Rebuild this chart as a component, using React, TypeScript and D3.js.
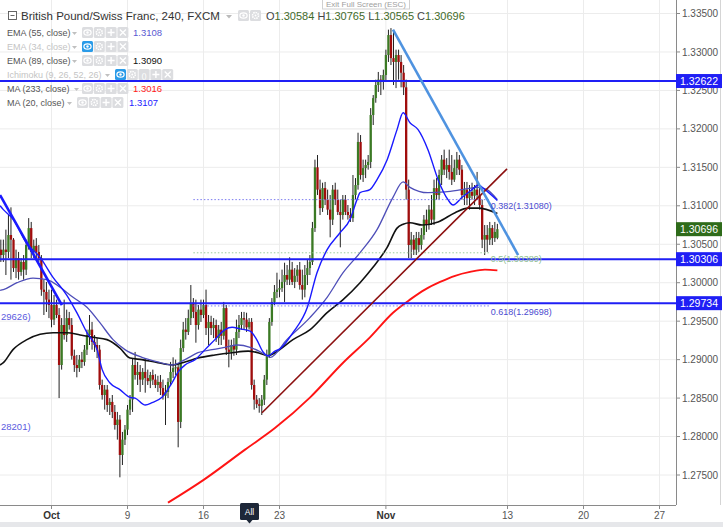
import React from "react";
import * as d3 from "d3";

// ---------------- data ----------------
const FIRST_BAR = -20; // bar index of the first candle (Oct 2 first bar = 0)

// [open, high, low, close] — GBP/CHF 4h candles
const candles: [number, number, number, number][] = [
  [1.3043, 1.3056, 1.3027, 1.3036],
  [1.3036, 1.3056, 1.3027, 1.3043],
  [1.3043, 1.3069, 1.301, 1.304],
  [1.304, 1.3088, 1.3032, 1.3062],
  [1.3062, 1.3098, 1.3004, 1.3056],
  [1.3056, 1.3058, 1.3014, 1.3019],
  [1.3019, 1.3043, 1.3006, 1.3032],
  [1.3032, 1.304, 1.3004, 1.3014],
  [1.3014, 1.3032, 1.3009, 1.3027],
  [1.3027, 1.3036, 1.3004, 1.3017],
  [1.3017, 1.3056, 1.301, 1.3049],
  [1.3049, 1.3084, 1.3043, 1.3071],
  [1.3071, 1.3079, 1.3032, 1.304],
  [1.304, 1.3056, 1.3032, 1.3048],
  [1.3048, 1.3058, 1.3032, 1.304],
  [1.304, 1.3049, 1.3027, 1.3032],
  [1.3032, 1.3036, 1.2983, 1.2991],
  [1.2991, 1.3004, 1.2958, 1.2988],
  [1.2988, 1.3001, 1.2962, 1.2978],
  [1.2978, 1.2991, 1.2954, 1.2971],
  [1.2971, 1.2991, 1.2942, 1.2952], // 0  Oct 2
  [1.2952, 1.2984, 1.2945, 1.2971],
  [1.2971, 1.2978, 1.2954, 1.2958],
  [1.2958, 1.2967, 1.285, 1.2893],
  [1.2893, 1.2954, 1.2887, 1.2945],
  [1.2945, 1.2978, 1.2926, 1.2932],
  [1.2932, 1.2965, 1.2923, 1.2954],
  [1.2954, 1.2962, 1.2939, 1.2945],
  [1.2945, 1.2954, 1.29, 1.2905],
  [1.2905, 1.2913, 1.2884, 1.2893],
  [1.2893, 1.2906, 1.2877, 1.2889], // 10
  [1.2889, 1.2906, 1.2884, 1.29],
  [1.29, 1.291, 1.2889, 1.2897],
  [1.2897, 1.2919, 1.2892, 1.2913],
  [1.2913, 1.2939, 1.2906, 1.2932],
  [1.2932, 1.2958, 1.2919, 1.2939],
  [1.2939, 1.2949, 1.2913, 1.2923],
  [1.2923, 1.2932, 1.291, 1.2919],
  [1.2919, 1.2928, 1.2902, 1.2913],
  [1.2913, 1.2919, 1.2861, 1.2867],
  [1.2867, 1.2874, 1.2848, 1.2854], // 20
  [1.2854, 1.2867, 1.2835, 1.2861],
  [1.2861, 1.2867, 1.2832, 1.2841],
  [1.2841, 1.285, 1.2828, 1.2845],
  [1.2845, 1.2854, 1.2824, 1.2832],
  [1.2832, 1.2841, 1.2809, 1.2815],
  [1.2815, 1.2832, 1.2796, 1.2822],
  [1.2822, 1.2828, 1.2747, 1.2776],
  [1.2776, 1.2806, 1.2763, 1.2796],
  [1.2796, 1.2815, 1.2789, 1.2809],
  [1.2809, 1.2841, 1.2802, 1.2835], // 30  Oct 9
  [1.2835, 1.2854, 1.2828, 1.2848],
  [1.2848, 1.2902, 1.2832, 1.2893],
  [1.2893, 1.291, 1.2874, 1.288],
  [1.288, 1.2897, 1.2867, 1.2884],
  [1.2884, 1.2893, 1.2858, 1.2874],
  [1.2874, 1.2889, 1.2867, 1.2884],
  [1.2884, 1.2902, 1.2857, 1.2876],
  [1.2876, 1.2887, 1.2867, 1.2872],
  [1.2872, 1.2884, 1.2863, 1.288],
  [1.288, 1.2887, 1.2867, 1.2874], // 40
  [1.2874, 1.2881, 1.2863, 1.2867],
  [1.2867, 1.2879, 1.2858, 1.2871],
  [1.2871, 1.288, 1.2854, 1.2863],
  [1.2863, 1.2874, 1.2848, 1.2853],
  [1.2853, 1.2867, 1.2815, 1.2858],
  [1.2858, 1.2876, 1.285, 1.2871],
  [1.2871, 1.2897, 1.2866, 1.2884],
  [1.2884, 1.2903, 1.2876, 1.2889],
  [1.2889, 1.29, 1.288, 1.289],
  [1.289, 1.2894, 1.2786, 1.2819], // 50
  [1.2819, 1.2926, 1.2811, 1.2915],
  [1.2915, 1.2949, 1.291, 1.2939],
  [1.2939, 1.2954, 1.2926, 1.2936],
  [1.2936, 1.2965, 1.2932, 1.2954],
  [1.2954, 1.2997, 1.2945, 1.2974],
  [1.2974, 1.298, 1.2954, 1.2962],
  [1.2962, 1.2978, 1.2922, 1.2945],
  [1.2945, 1.2971, 1.2939, 1.2965],
  [1.2965, 1.2978, 1.2949, 1.2958],
  [1.2958, 1.2978, 1.2954, 1.2971], // 60  Oct 16
  [1.2971, 1.2991, 1.2932, 1.2941],
  [1.2941, 1.2958, 1.2919, 1.2949],
  [1.2949, 1.2957, 1.2932, 1.2941],
  [1.2941, 1.2954, 1.2928, 1.2945],
  [1.2945, 1.2952, 1.2923, 1.2928],
  [1.2928, 1.2945, 1.2919, 1.2939],
  [1.2939, 1.2949, 1.2919, 1.2931],
  [1.2931, 1.2975, 1.2926, 1.2967],
  [1.2967, 1.2971, 1.2906, 1.2913],
  [1.2913, 1.2926, 1.289, 1.291], // 70
  [1.291, 1.2926, 1.29, 1.2919],
  [1.2919, 1.2928, 1.2905, 1.2913],
  [1.2913, 1.2952, 1.2906, 1.2936],
  [1.2936, 1.2958, 1.2928, 1.2945],
  [1.2945, 1.2962, 1.2939, 1.2954],
  [1.2954, 1.2962, 1.2939, 1.2952],
  [1.2952, 1.2961, 1.2936, 1.2942],
  [1.2942, 1.2954, 1.2939, 1.2949],
  [1.2949, 1.2954, 1.2861, 1.2867],
  [1.2867, 1.2874, 1.2835, 1.2848], // 80
  [1.2848, 1.2854, 1.2837, 1.2842],
  [1.2842, 1.285, 1.2831, 1.284],
  [1.284, 1.2854, 1.2828, 1.2848],
  [1.2848, 1.288, 1.2841, 1.2874],
  [1.2874, 1.2913, 1.2867, 1.2906],
  [1.2906, 1.2954, 1.2902, 1.2949],
  [1.2949, 1.298, 1.2944, 1.2975],
  [1.2975, 1.2997, 1.2971, 1.2988],
  [1.2988, 1.3013, 1.298, 1.2991],
  [1.2991, 1.3004, 1.2981, 1.2993], // 90  Oct 23
  [1.2993, 1.3017, 1.2988, 1.3001],
  [1.3001, 1.3026, 1.2975, 1.301],
  [1.301, 1.3023, 1.2997, 1.3004],
  [1.3004, 1.3033, 1.2997, 1.3017],
  [1.3017, 1.3027, 1.2997, 1.3001],
  [1.3001, 1.3019, 1.2993, 1.3009],
  [1.3009, 1.3023, 1.3001, 1.3017],
  [1.3017, 1.3027, 1.2991, 1.2997],
  [1.2997, 1.3017, 1.2978, 1.2991],
  [1.2991, 1.3023, 1.2981, 1.301], // 100
  [1.301, 1.303, 1.2997, 1.3019],
  [1.3019, 1.3036, 1.301, 1.3027],
  [1.3027, 1.3079, 1.3023, 1.3071],
  [1.3071, 1.316, 1.3066, 1.315],
  [1.315, 1.3166, 1.3114, 1.3121],
  [1.3121, 1.3134, 1.3088, 1.3097],
  [1.3097, 1.313, 1.3092, 1.3123],
  [1.3123, 1.3131, 1.3101, 1.3108],
  [1.3108, 1.3121, 1.3088, 1.3095],
  [1.3095, 1.3114, 1.3059, 1.3082], // 110
  [1.3082, 1.3127, 1.3075, 1.3121],
  [1.3121, 1.313, 1.3101, 1.3108],
  [1.3108, 1.3121, 1.3088, 1.3092],
  [1.3092, 1.3108, 1.3046, 1.3088],
  [1.3088, 1.3114, 1.3082, 1.3108],
  [1.3108, 1.3114, 1.3088, 1.3092],
  [1.3092, 1.3101, 1.3082, 1.3088],
  [1.3088, 1.3097, 1.3079, 1.3084],
  [1.3084, 1.314, 1.3079, 1.3114],
  [1.3114, 1.3136, 1.3108, 1.3127], // 120  Oct 30
  [1.3127, 1.3195, 1.3121, 1.3183],
  [1.3183, 1.3192, 1.3134, 1.314],
  [1.314, 1.316, 1.3131, 1.3149],
  [1.3149, 1.316, 1.3136, 1.3153],
  [1.3153, 1.3166, 1.3147, 1.3157],
  [1.3157, 1.3227, 1.3149, 1.3218],
  [1.3218, 1.3244, 1.3205, 1.324],
  [1.324, 1.3264, 1.3234, 1.3257],
  [1.3257, 1.3274, 1.3248, 1.3264],
  [1.3264, 1.327, 1.3244, 1.3261], // 130
  [1.3261, 1.3277, 1.3251, 1.327],
  [1.327, 1.3303, 1.3261, 1.3296],
  [1.3296, 1.3329, 1.3287, 1.3322],
  [1.3322, 1.3331, 1.3283, 1.3292],
  [1.3292, 1.3326, 1.3257, 1.3287],
  [1.3287, 1.3303, 1.3253, 1.3296],
  [1.3296, 1.3303, 1.3264, 1.3287],
  [1.3287, 1.3296, 1.3254, 1.3273],
  [1.3273, 1.3283, 1.3244, 1.3254],
  [1.3254, 1.3264, 1.3108, 1.3121], // 140
  [1.3121, 1.3134, 1.3032, 1.3049],
  [1.3049, 1.3066, 1.3032, 1.3056],
  [1.3056, 1.3062, 1.3036, 1.3043],
  [1.3043, 1.3066, 1.3036, 1.3058],
  [1.3058, 1.3066, 1.304, 1.3049],
  [1.3049, 1.3071, 1.3043, 1.3062],
  [1.3062, 1.3088, 1.3056, 1.3082],
  [1.3082, 1.3095, 1.3066, 1.3075],
  [1.3075, 1.3101, 1.3069, 1.3095],
  [1.3095, 1.3114, 1.3075, 1.3082], // 150  Nov 6
  [1.3082, 1.3134, 1.3075, 1.3123],
  [1.3123, 1.3136, 1.3108, 1.3114],
  [1.3114, 1.3147, 1.3108, 1.314],
  [1.314, 1.3166, 1.3127, 1.316],
  [1.316, 1.3173, 1.314, 1.3147],
  [1.3147, 1.3162, 1.3136, 1.3153],
  [1.3153, 1.3173, 1.3134, 1.3144],
  [1.3144, 1.3166, 1.3127, 1.3134],
  [1.3134, 1.316, 1.3131, 1.3149],
  [1.3149, 1.317, 1.314, 1.316], // 160
  [1.316, 1.3166, 1.314, 1.3147],
  [1.3147, 1.3153, 1.3108, 1.3114],
  [1.3114, 1.3131, 1.3101, 1.3121],
  [1.3121, 1.3131, 1.3101, 1.311],
  [1.311, 1.3127, 1.3095, 1.3118],
  [1.3118, 1.313, 1.3108, 1.3113],
  [1.3113, 1.3127, 1.3101, 1.3121],
  [1.3121, 1.3144, 1.3108, 1.3114],
  [1.3114, 1.3127, 1.3095, 1.3101],
  [1.3101, 1.3108, 1.3045, 1.3056], // 170
  [1.3056, 1.3075, 1.3036, 1.3062],
  [1.3062, 1.3075, 1.304, 1.3056],
  [1.3056, 1.3079, 1.3049, 1.3071],
  [1.3071, 1.3075, 1.3049, 1.3058],
  [1.3058, 1.3079, 1.3053, 1.3066],
  [1.30584, 1.30765, 1.30565, 1.30696],
];

// moving averages, sampled [bar index, value]
const ma20: [number, number][] = [
  [-20.3, 1.31], [-19, 1.3095], [-15, 1.3082], [-10, 1.3052], [-4.5, 1.3033], [0.6, 1.3007],
  [6, 1.2984], [10, 1.2961], [14, 1.2935], [18, 1.2913], [20, 1.2887], [23, 1.287], [27, 1.2861],
  [31, 1.2851], [33, 1.285], [37, 1.2841], [39.7, 1.2844], [43.6, 1.2851], [47.6, 1.287], [50, 1.2884],
  [52.7, 1.2893], [56.7, 1.29], [60.6, 1.2913], [64.5, 1.2926], [68.5, 1.2939], [71.3, 1.2942],
  [74.4, 1.294], [78.4, 1.2937], [81, 1.2926], [83.5, 1.291], [85.5, 1.2905], [88.2, 1.2911],
  [90.2, 1.2914], [95.3, 1.2935], [101, 1.2968], [104.8, 1.3013], [108.8, 1.3043], [113.9, 1.3065],
  [117.8, 1.3082], [120.6, 1.3108], [121.8, 1.3117], [125.7, 1.3121], [128.5, 1.3134], [132.5, 1.316],
  [136.4, 1.3199], [138.8, 1.3221], [141.5, 1.3208], [144.7, 1.3199], [148.6, 1.3173], [152.6, 1.3134],
  [156.5, 1.3108], [158.5, 1.3101], [162.1, 1.3111], [166, 1.3121], [168.4, 1.3127], [171.1, 1.3121],
  [176, 1.3107],
];
const ema55: [number, number][] = [
  [-20.3, 1.299], [-19, 1.2991], [-13.6, 1.3], [-7.3, 1.3006], [-1.8, 1.3004], [3.4, 1.2994],
  [8.5, 1.2981], [14, 1.2968], [19.1, 1.2948], [24.3, 1.2926], [29, 1.2913], [35.7, 1.2903],
  [42, 1.2897], [47.6, 1.2893], [52.7, 1.29], [57.8, 1.2909], [63.4, 1.2913], [68.5, 1.2916],
  [73.6, 1.2919], [78.4, 1.2916], [83.1, 1.2909], [86.3, 1.2903], [92.9, 1.2926], [102.1, 1.2955],
  [108.8, 1.2981], [115.1, 1.3013], [121.8, 1.3039], [128.5, 1.3069], [134.8, 1.3111], [138.8, 1.3131],
  [141.5, 1.3124], [148.6, 1.3117], [155.4, 1.3118], [162.1, 1.3121], [168.4, 1.3124], [171.9, 1.3121],
  [176, 1.3108],
];
const ema89: [number, number][] = [
  [-20.3, 1.2893], [-19, 1.2896], [-15.2, 1.2913], [-9.7, 1.2926], [-4.5, 1.2933], [0.6, 1.2935],
  [6.1, 1.2935], [11.3, 1.2932], [16.4, 1.2929], [21.9, 1.2926], [27, 1.2915], [31, 1.2902],
  [35.7, 1.29], [42, 1.2896], [47.6, 1.2893], [52.7, 1.2897], [57.8, 1.2902], [64.5, 1.2906],
  [71.3, 1.2909], [77.6, 1.2911], [81.5, 1.2909], [85.5, 1.2905], [88.2, 1.2909], [95.3, 1.2926],
  [102.1, 1.2939], [108.8, 1.2961], [115.1, 1.2978], [121.8, 1.3], [126.9, 1.302], [132.5, 1.3046],
  [136.4, 1.3071], [138.8, 1.3076], [141.5, 1.3078], [146.3, 1.3075], [152.6, 1.3079], [159.3, 1.3091],
  [164.4, 1.3097], [168.4, 1.3097], [176, 1.309],
];
const ma233: [number, number][] = [
  [46, 1.2714], [60.2, 1.2744], [76.4, 1.2783], [88.2, 1.2811], [102.1, 1.2851], [115.1, 1.2896],
  [125.7, 1.2929], [134.8, 1.2961], [141.5, 1.2978], [147.4, 1.2991], [153.4, 1.3001], [159.3, 1.3009],
  [165.2, 1.3014], [171.1, 1.3017], [176, 1.3016],
];

// axes
const xTickBars = [0, 30, 60, 90, 132, 180, 210, 240];
const xTickLabels = ["Oct", "9", "16", "23", "Nov", "13", "20", "27"];
const yTickValues = [1.275, 1.28, 1.285, 1.29, 1.295, 1.3, 1.305, 1.31, 1.315, 1.32, 1.325, 1.33, 1.335];

// drawings
const horizontalLevels = [1.32622, 1.30306, 1.29734];
const lastClose = 1.30696;
const fibValues = [1.3108, 1.30389, 1.29698];
const fibLabels = ["0.382(1.31080)", "0.5(1.30389)", "0.618(1.29698)"];
const fibBars = [56, 173];
const leftFibValues = [1.29626, 1.28201];
const leftFibLabels = ["29626)", "28201)"];
const trendDown: [number, number][] = [[134.8, 1.3329], [184.2, 1.3036]];
const trendUp: [number, number][] = [[83.1, 1.2831], [179.8, 1.3148]];
const trendLeft: [number, number][] = [[-20.3, 1.3114], [4.1, 1.2971]];

// header / legend
const title = "British Pound/Swiss Franc, 240, FXCM";
const ohlcKeys = ["O", "H", "L", "C"];
const ohlcValues = ["1.30584", "1.30765", "1.30565", "1.30696"];
const legendNames = ["EMA (55, close)", "EMA (34, close)", "EMA (89, close)", "Ichimoku (9, 26, 52, 26)", "MA (233, close)", "MA (20, close)"];
const legendValues = ["1.3108", "", "1.3090", "", "1.3016", "1.3107"];
const legendHidden = [false, true, false, true, false, false];

// ---------------- styles ----------------
const PLOT_R = 676;
const PLOT_B = 505;
const FONT = "'Liberation Sans', Arial, sans-serif";
const UP = "#3b7a24";
const DOWN = "#a00d0d";
const LEVEL_BLUE = "#1f1ff5";
const legendColors = ["#5a5ad2", "", "#111", "", "#ff1a1a", "#2323ff"];
const legendTriX = [72, 72, 72, 105, 74, 67];
const legendIconX = [82, 82, 82, 115, 82, 77];
const legendValX = [133, 0, 133, 0, 133, 129];

function IconBox({ x, y, kind, active }: { x: number; y: number; kind: string; active?: boolean }) {
  const cx = x + 5.5;
  const cy = y + 5.5;
  const fg = "#fff";
  return (
    <g>
      <rect x={x} y={y} width={11} height={11} rx={1.5} fill={active ? "#2a9be8" : "#dcdde0"} />
      {kind === "eye" && (
        <g>
          <ellipse cx={cx} cy={cy} rx={3.6} ry={2.6} fill="none" stroke={fg} strokeWidth={1.2} />
          <circle cx={cx} cy={cy} r={1.2} fill={fg} />
        </g>
      )}
      {kind === "gear" && (
        <g>
          <circle cx={cx} cy={cy} r={3} fill="none" stroke={fg} strokeWidth={1.6} strokeDasharray="1.5 0.8" />
          <circle cx={cx} cy={cy} r={1} fill={fg} />
        </g>
      )}
      {kind === "plus" && (
        <path d={`M${cx - 3.5},${cy}H${cx + 3.5}M${cx},${cy - 3.5}V${cy + 3.5}`} stroke={fg} strokeWidth={1.4} />
      )}
      {kind === "cross" && (
        <path d={`M${cx - 3},${cy - 3}L${cx + 3},${cy + 3}M${cx + 3},${cy - 3}L${cx - 3},${cy + 3}`} stroke={fg} strokeWidth={1.3} />
      )}
      {kind === "paren" && (
        <text x={cx} y={cy + 3} textAnchor="middle" fontSize={8} fill={fg} fontFamily={FONT}>()</text>
      )}
    </g>
  );
}

export default function App() {
  const x = d3.scaleLinear().domain([0, 30]).range([51.5, 127.5]);
  const y = d3.scaleLinear().domain([1.275, 1.335]).range([475, 13.5]);
  const smooth = d3
    .line<[number, number]>()
    .x((d) => x(d[0]))
    .y((d) => y(d[1]))
    .curve(d3.curveMonotoneX);
  const straight = d3
    .line<[number, number]>()
    .x((d) => x(d[0]))
    .y((d) => y(d[1]));

  const bodyW = 2.3;

  const axisLabel = (v: number, fill: string, key: string) => (
    <g key={key}>
      <rect x={PLOT_R} y={y(v) - 7} width={46} height={14} fill={fill} />
      <text x={PLOT_R + 23} y={y(v) + 3.6} textAnchor="middle" fontSize={10.5} fill="#fff" fontFamily={FONT}>
        {v.toFixed(5)}
      </text>
    </g>
  );

  return (
    <svg
      width={723}
      height={527}
      viewBox="0 0 723 527"
      style={{ position: "absolute", left: 0, top: 0, background: "#fff" }}
    >
      <defs>
        <clipPath id="plot">
          <rect x={0} y={0} width={PLOT_R} height={PLOT_B} />
        </clipPath>
      </defs>
      <rect x={0} y={0} width={723} height={527} fill="#fff" />

      {/* grid */}
      <g stroke="#ececec" strokeWidth={1}>
        {xTickBars.map((b) => (
          <line key={"gx" + b} x1={x(b)} x2={x(b)} y1={0} y2={PLOT_B} />
        ))}
        {yTickValues.map((v) => (
          <line key={"gy" + v} x1={0} x2={PLOT_R} y1={y(v)} y2={y(v)} />
        ))}
      </g>

      <g clipPath="url(#plot)">
        {/* candles */}
        {candles.map((c, k) => {
          const [o, h, l, cl] = c;
          const cx = x(FIRST_BAR + k);
          const up = cl >= o;
          const top = y(Math.max(o, cl));
          const bh = Math.max(1, Math.abs(y(o) - y(cl)));
          return (
            <g key={"c" + k}>
              <line x1={cx} x2={cx} y1={y(h)} y2={y(l)} stroke="#222" strokeWidth={1} />
              <rect x={cx - bodyW / 2} y={top} width={bodyW} height={bh} fill={up ? UP : DOWN} />
            </g>
          );
        })}

        {/* moving averages */}
        <path d={smooth(ma233) || ""} fill="none" stroke="#ff1414" strokeWidth={1.9} />
        <path d={smooth(ema89) || ""} fill="none" stroke="#111" strokeWidth={1.6} />
        <path d={smooth(ema55) || ""} fill="none" stroke="#4e4eb8" strokeWidth={1.3} />
        <path d={smooth(ma20) || ""} fill="none" stroke="#1a1aff" strokeWidth={1.4} />

        {/* fib levels */}
        {fibValues.map((v, k) => (
          <line
            key={"fl" + k}
            x1={x(fibBars[0])}
            x2={x(fibBars[1])}
            y1={y(v)}
            y2={y(v)}
            stroke={k === 1 ? "#9ccc9c" : "#7a7af0"}
            strokeWidth={1}
            strokeDasharray="1.5 2"
          />
        ))}

        {/* horizontal levels */}
        {horizontalLevels.map((v) => (
          <line key={"hl" + v} x1={0} x2={PLOT_R} y1={y(v)} y2={y(v)} stroke={LEVEL_BLUE} strokeWidth={2} />
        ))}

        {/* trend lines */}
        <path d={straight(trendUp) || ""} stroke="#8c1010" strokeWidth={1.6} fill="none" />
        <path d={straight(trendDown) || ""} stroke="#4f93e0" strokeWidth={2.6} fill="none" />
        <path d={straight(trendLeft) || ""} stroke="#1a1aff" strokeWidth={2.6} fill="none" />

        {/* fib labels */}
        {fibValues.map((v, k) => (
          <text
            key={"ft" + k}
            x={x(fibBars[1]) + 1}
            y={y(v) + 9}
            fontSize={9}
            fill={k === 1 ? "#8fbf8f" : "#4b4bd0"}
            fontFamily={FONT}
          >
            {fibLabels[k]}
          </text>
        ))}
        {leftFibValues.map((v, k) => (
          <text key={"lf" + k} x={1} y={y(v) + 8.5} fontSize={9.5} fill="#5a5ae0" fontFamily={FONT}>
            {leftFibLabels[k]}
          </text>
        ))}
      </g>

      {/* axes lines */}
      <line x1={PLOT_R + 0.5} x2={PLOT_R + 0.5} y1={0} y2={PLOT_B} stroke="#8a8a8a" />
      <line x1={0} x2={PLOT_R} y1={PLOT_B + 0.5} y2={PLOT_B + 0.5} stroke="#8a8a8a" />
      <line x1={720.5} x2={720.5} y1={0} y2={PLOT_B} stroke="#d5d5d5" />

      {/* y ticks */}
      {yTickValues.map((v) => (
        <g key={"yt" + v}>
          <line x1={PLOT_R} x2={PLOT_R + 4} y1={y(v)} y2={y(v)} stroke="#8a8a8a" />
          <text x={PLOT_R + 6} y={y(v) + 3.6} fontSize={10} fill="#555" fontFamily={FONT}>
            {v.toFixed(5)}
          </text>
        </g>
      ))}

      {/* x ticks */}
      {xTickBars.map((b, k) => (
        <g key={"xt" + b}>
          <line x1={x(b)} x2={x(b)} y1={PLOT_B} y2={PLOT_B + 4} stroke="#8a8a8a" />
          <text
            x={x(b)}
            y={519}
            textAnchor="middle"
            fontSize={10}
            fontWeight={xTickLabels[k] === "Oct" || xTickLabels[k] === "Nov" ? "bold" : "normal"}
            fill={xTickLabels[k] === "Oct" || xTickLabels[k] === "Nov" ? "#333" : "#555"}
            fontFamily={FONT}
          >
            {xTickLabels[k]}
          </text>
        </g>
      ))}

      {/* price labels on axis */}
      {axisLabel(horizontalLevels[0], LEVEL_BLUE, "al0")}
      {axisLabel(lastClose, "#2e6b1a", "alc")}
      {axisLabel(horizontalLevels[1], LEVEL_BLUE, "al1")}
      {axisLabel(horizontalLevels[2], LEVEL_BLUE, "al2")}

      {/* bottom strip */}
      <rect x={0} y={522} width={723} height={5} fill="#e6e7ea" />

      {/* All badge */}
      <g>
        <rect x={240} y={503} width={19} height={17} rx={1.5} fill="#1d2738" />
        <path d="M246.5,520 L249.5,523.5 L252.5,520 Z" fill="#1d2738" />
        <text x={249.5} y={515} textAnchor="middle" fontSize={8.5} fill="#fff" fontFamily={FONT}>All</text>
      </g>

      {/* Exit full screen tooltip */}
      <g>
        <rect x={322.5} y={-2} width={87} height={11} fill="#fff" stroke="#d0d0d0" />
        <text x={366} y={6.5} textAnchor="middle" fontSize={8} fill="#a0a0a0" fontFamily={FONT}>
          Exit Full Screen (ESC)
        </text>
      </g>

      {/* header */}
      <g>
        <rect x={8.5} y={11.5} width={8} height={8} fill="#fff" stroke="#555" strokeWidth={0.9} />
        <line x1={10.5} x2={14.5} y1={15.5} y2={15.5} stroke="#555" strokeWidth={0.9} />
        <text x={21} y={20} fontSize={11.5} fill="#333" fontFamily={FONT}>{title}</text>
        <path d="M226,15 L232,15 L229,18.5 Z" fill="#bbb" />
        <IconBox x={238} y={10} kind="eye" />
        <IconBox x={250} y={10} kind="gear" />
        <text x={266} y={20} fontSize={11} fill="#444" fontFamily={FONT}>
          {ohlcKeys.map((k, i) => (
            <tspan key={k}>
              {(i > 0 ? " " : "") + k}
              <tspan fill="#3f6b2a">{ohlcValues[i]}</tspan>
            </tspan>
          ))}
        </text>
      </g>

      {/* legend */}
      {legendNames.map((name, r) => {
        const ty = 36 + r * 14;
        const kinds = name.startsWith("Ichimoku") ? ["eye", "gear", "paren", "plus", "cross"] : ["eye", "gear", "plus", "cross"];
        return (
          <g key={"lg" + r}>
            <text x={7} y={ty} fontSize={9} fill={legendHidden[r] ? "#c4c4c4" : "#555"} fontFamily={FONT}>
              {name}
            </text>
            <path
              d={`M${legendTriX[r]},${ty - 4} L${legendTriX[r] + 5},${ty - 4} L${legendTriX[r] + 2.5},${ty - 1} Z`}
              fill="#c0c0c0"
            />
            {kinds.map((kd, i) => (
              <IconBox
                key={kd}
                x={legendIconX[r] + i * 11.8}
                y={ty - 9}
                kind={kd}
                active={legendHidden[r] && kd === "eye"}
              />
            ))}
            {legendValues[r] && (
              <text x={legendValX[r]} y={ty} fontSize={9.5} fill={legendColors[r]} fontFamily={FONT}>
                {legendValues[r]}
              </text>
            )}
          </g>
        );
      })}
    </svg>
  );
}
